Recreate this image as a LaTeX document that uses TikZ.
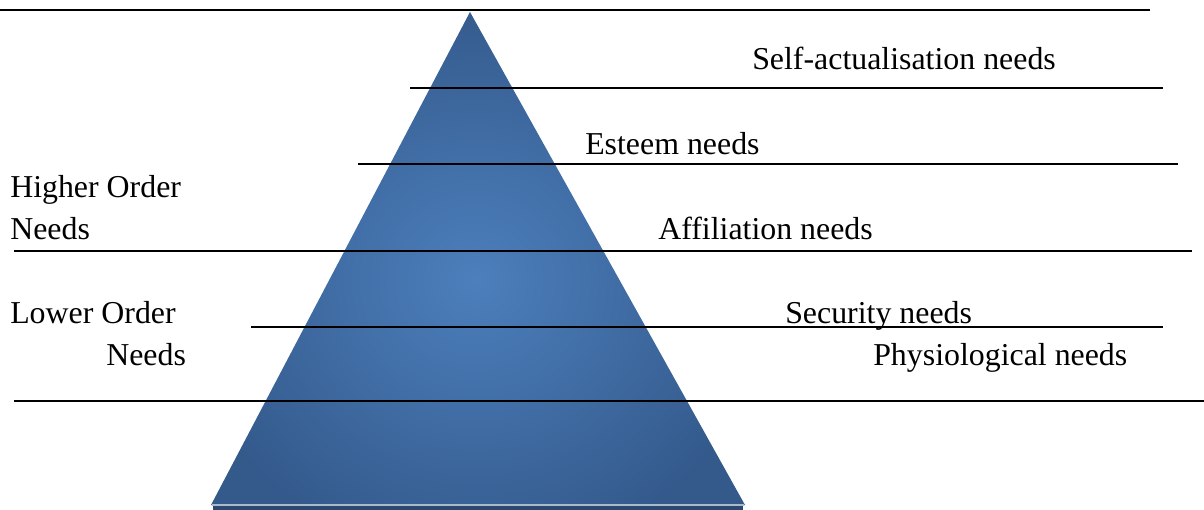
\documentclass[tikz,border=0pt]{standalone}
\usepackage{fontspec}
\setmainfont{Liberation Serif}
\usepackage{tikz}
\definecolor{pyrlight}{RGB}{76,127,188}
\definecolor{pyrdark}{RGB}{52,90,140}
\definecolor{pyrbase}{RGB}{44,72,110}
\definecolor{pyrrim}{RGB}{170,186,206}
\tikzset{level/.style = {line width = 1.5, black},
  lbl/.style = {anchor = base west, inner sep = 0, font = \fontsize{23.9}{28}\selectfont}}

\begin{document}
\begin{tikzpicture}[x = 0.75pt, y = -0.75pt]
    \useasboundingbox (0, 0) rectangle (1204, 510);

    % pyramid
    \begin{scope}
      \clip (470, 12) -- (211, 505) -- (745, 505) -- cycle;
      \shade [inner color = pyrlight, outer color = pyrdark] (180, 0) rectangle (770, 560);
    \end{scope}
    \fill [pyrbase] (213, 506) rectangle (743, 510);
    \draw [pyrrim, line width = 0.8] (212, 505) -- (744, 505);

    % level lines
    \draw [level] (0, 10) -- (1150, 10);
    \draw [level] (410, 88) -- (1163, 88);
    \draw [level] (358, 164) -- (1178, 164);
    \draw [level] (14, 251) -- (1192, 251);
    \draw [level] (251, 327) -- (1163, 327);
    \draw [level] (14, 401) -- (1204, 401);

    \node [lbl] (self) at (752, 70) {Self-actualisation needs};
    \node [lbl] (esteem) at (585, 155) {Esteem needs};
    \node [lbl] (affil) at (658, 239) {Affiliation needs};
    \node [lbl] (secur) at (785, 323) {Security needs};
    \node [lbl] (physio) at (873, 365) {Physiological needs};

    \node [lbl] (higher) at (10, 197) {Higher Order};
    \node [lbl] (highneeds) at (10, 239) {Needs};
    \node [lbl] (lower) at (10, 323) {Lower Order};
    \node [lbl] (lowneeds) at (106, 365) {Needs};
  \end{tikzpicture}
\end{document}
